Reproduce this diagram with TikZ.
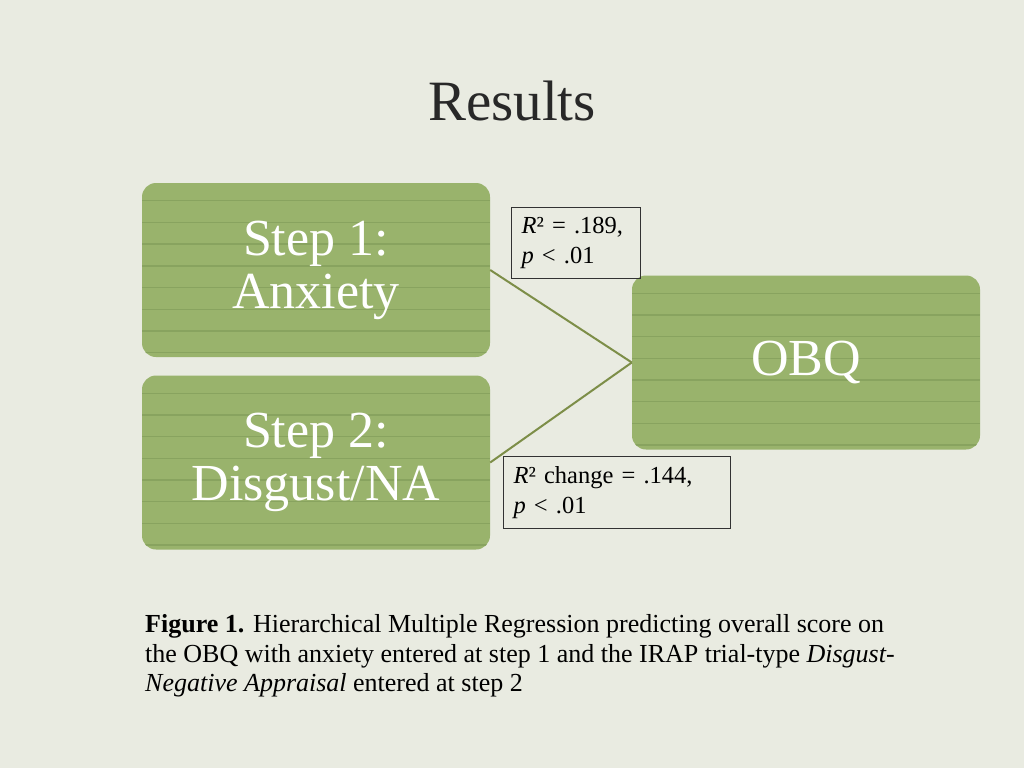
\documentclass[tikz,border=0pt]{standalone}
\usepackage{fontspec}
\setmainfont{Liberation Serif}
\definecolor{bgc}{RGB}{233,235,225}
\definecolor{sage}{RGB}{153,179,108}
\definecolor{sagedark}{RGB}{132,160,92}
\definecolor{olive}{RGB}{125,142,72}
\definecolor{titlec}{RGB}{40,40,40}
\definecolor{framec}{RGB}{50,50,50}
\tikzset{
  greenbox/.style={rounded corners=14pt, fill=sage, text=white, align=center,
    minimum width=348pt, minimum height=174pt, inner sep=0pt,
    font=\fontsize{52}{53}\selectfont,
    path picture={
      \foreach \k in {1,...,8} {
        \draw[sagedark, line width=1.4pt, opacity=0.8]
          ([yshift=-\k*21.7pt+4pt]path picture bounding box.north west) --
          ([yshift=-\k*21.7pt+4pt]path picture bounding box.north east);
      }
    }},
  lbl/.style={draw=framec, line width=1.1pt, fill=none, align=left, anchor=north west,
    inner xsep=10pt, inner ysep=0pt, text=black,
    font=\fontsize{24.5}{30}\selectfont},
  conn/.style={olive, line width=2pt},
  captxt/.style={anchor=base west, inner sep=0pt, text=black, font=\fontsize{26}{30}\selectfont}
}
\begin{document}
\begin{tikzpicture}[x=1pt,y=-1pt]
\fill[bgc] (0,0) rectangle (1024,768);
\useasboundingbox (0,0) rectangle (1024,768);

\node[anchor=base, inner sep=0pt, text=titlec, font=\fontsize{57}{60}\selectfont] (title) at (512,120) {Results};

\node[greenbox] (s1) at (316,270) {Step 1:\\Anxiety};
\node[greenbox] (s2) at (316,462.5) {Step 2:\\Disgust/NA};
\node[greenbox] (obq) at (806,362.5) {OBQ};

\draw[conn] (s1.east) -- (obq.west);
\draw[conn] (s2.east) -- (obq.west);

\node[lbl, minimum width=129pt, minimum height=71pt, text width=109pt] (l1) at (511,207) {\textit{R}² = .189,\\\textit{p} < .01};
\node[lbl, minimum width=227pt, minimum height=72pt, text width=207pt] (l2) at (503,456) {\textit{R}² change = .144,\\\textit{p} < .01};

\node[captxt] (c1) at (145,632) {\textbf{Figure 1.} Hierarchical Multiple Regression predicting overall score on};
\node[captxt] (c2) at (145,662) {the OBQ with anxiety entered at step 1 and the IRAP trial-type \textit{Disgust-}};
\node[captxt] (c3) at (145,691) {\textit{Negative Appraisal} entered at step 2};
\end{tikzpicture}
\end{document}
